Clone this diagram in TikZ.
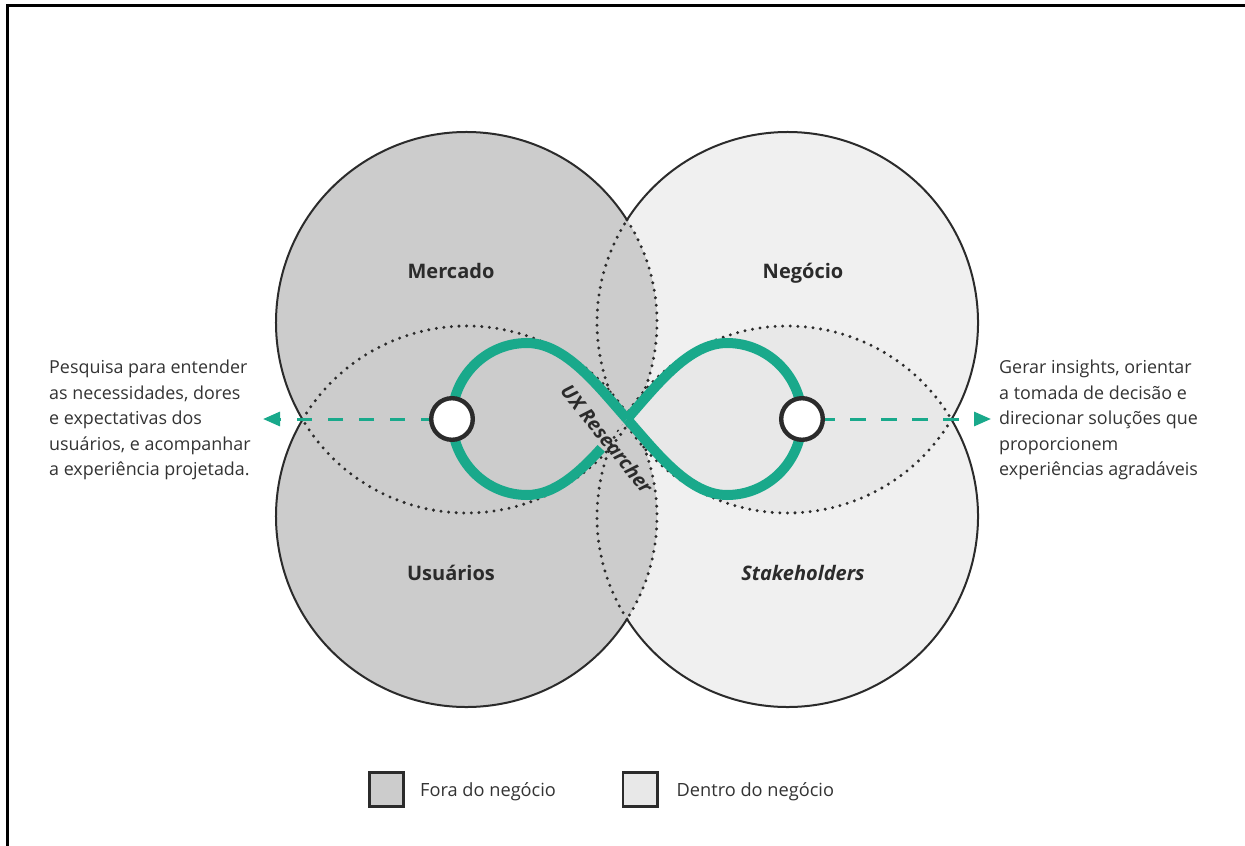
\documentclass[tikz,border=0pt]{standalone}
\usepackage{fontspec}
\setmainfont{Open Sans}
\usetikzlibrary{arrows.meta}
\definecolor{uxgreen}{HTML}{19A98B}
\definecolor{darkfill}{HTML}{CCCCCC}
\definecolor{lightfill}{HTML}{F0F0F0}
\definecolor{lensfill}{HTML}{E8E8E8}
\definecolor{ink}{HTML}{2B2B2B}
\definecolor{txt}{HTML}{333333}
\begin{document}
\begin{tikzpicture}[x=1pt,y=-1pt,
  outline/.style={draw=ink, line width=2pt},
  dots/.style={draw=ink, line width=3.3pt, line cap=round, dash pattern=on 0pt off 7.6pt},
  infty/.style={draw=uxgreen, line width=10pt},
  hub/.style={circle, draw=ink, line width=4.4pt, fill=white, minimum size=41.6pt, inner sep=0pt},
  region/.style={font=\fontsize{20}{24}\selectfont\bfseries, text=ink, inner sep=0pt, anchor=base},
  desc/.style={font=\fontsize{17.9}{25.5}\selectfont, text=txt, align=left, inner sep=0pt, anchor=north west},
  flow/.style={draw=uxgreen, line width=3pt, dash pattern=on 15.5pt off 15.5pt, dash phase=7pt, -{Triangle[length=17pt,width=14pt]}},
  legbox/.style={draw=ink, line width=2.6pt, minimum size=34.4pt, inner sep=0pt},
  legtxt/.style={font=\fontsize{18.2}{21}\selectfont, text=txt, anchor=base west, inner sep=0pt}
]
\useasboundingbox (0,0) rectangle (1245,846);
% frame
\draw[line width=2.2pt] (1245,5.5) -- (7.5,5.5) -- (7.5,846);

% circle fills
\fill[lightfill] (787.5,322.5) circle[radius=190.5];
\fill[lightfill] (787.5,516.5) circle[radius=190.5];
\begin{scope}
  \clip (787.5,322.5) circle[radius=190.5];
  \fill[lensfill] (787.5,516.5) circle[radius=190.5];
\end{scope}
\fill[darkfill] (466.5,322.5) circle[radius=190.5];
\fill[darkfill] (466.5,516.5) circle[radius=190.5];

% dotted inner arcs
\draw[dots] (466.5,322.5) ++(-32.6:190.5) arc[start angle=-32.6, end angle=149.4, radius=190.5];
\draw[dots] (466.5,516.5) ++(-149.4:190.5) arc[start angle=-149.4, end angle=32.6, radius=190.5];
\draw[dots] (787.5,322.5) ++(30.6:190.5) arc[start angle=30.6, end angle=212.6, radius=190.5];
\draw[dots] (787.5,516.5) ++(147.4:190.5) arc[start angle=147.4, end angle=329.4, radius=190.5];

% solid outer arcs
\draw[outline] (466.5,322.5) ++(-32.6:190.5) arc[start angle=-32.6, end angle=-210.6, radius=190.5];
\draw[outline] (466.5,516.5) ++(32.6:190.5) arc[start angle=32.6, end angle=210.6, radius=190.5];
\draw[outline] (787.5,322.5) ++(30.6:190.5) arc[start angle=30.6, end angle=-147.4, radius=190.5];
\draw[outline] (787.5,516.5) ++(-30.6:190.5) arc[start angle=-30.6, end angle=147.4, radius=190.5];

% loop interiors
\fill[darkfill] (627,419) .. controls (597,385) and (565,343) .. (527,343)
  .. controls (485.6,343) and (452,377) .. (452,419)
  .. controls (452,461) and (485.6,495) .. (527,495)
  .. controls (565,495) and (597,453) .. (627,419) -- cycle;
\fill[lensfill] (627,419) .. controls (657,453) and (689,495) .. (727,495)
  .. controls (768.4,495) and (802,461) .. (802,419)
  .. controls (802,377) and (768.4,343) .. (727,343)
  .. controls (689,343) and (657,385) .. (627,419) -- cycle;

% infinity curve
\draw[infty] (627,419) .. controls (597,385) and (565,343) .. (527,343)
  .. controls (485.6,343) and (452,377) .. (452,419)
  .. controls (452,461) and (485.6,495) .. (527,495)
  .. controls (554.36,495) and (578.61,473.23) .. (601.24,448.35);
\draw[infty] (627,419) .. controls (657,453) and (689,495) .. (727,495)
  .. controls (768.4,495) and (802,461) .. (802,419)
  .. controls (802,377) and (768.4,343) .. (727,343)
  .. controls (689,343) and (657,385) .. (627,419);

\node[font=\fontsize{19.5}{22}\selectfont\bfseries\itshape, text=ink, rotate=-51, inner sep=0pt] (ux) at (607,439) {UX Researcher};

% hubs and arrows
\node[hub] (hubL) at (452,419) {};
\node[hub] (hubR) at (802,419) {};
\coordinate (tipL) at (263,419);
\coordinate (tipR) at (991,419);
\draw[flow] (hubL.west) -- (tipL);
\draw[flow, dash phase=6pt] (hubR.east) -- (tipR);

% region labels
\node[region] (mercado) at (451,278.3) {Mercado};
\node[region] (negocio) at (803,278.3) {Negócio};
\node[region] (usuarios) at (451,580.7) {Usuários};
\node[region, font=\fontsize{20}{24}\selectfont\bfseries\itshape] (stake) at (803,580.7) {Stakeholders};

% descriptions
\node[desc] (descL) at (49,360) {Pesquisa para entender\\as necessidades, dores\\e expectativas dos\\usuários, e acompanhar\\a experiência projetada.};
\node[desc] (descR) at (999,360) {Gerar insights, orientar\\a tomada de decisão e\\direcionar soluções que\\proporcionem\\experiências agradáveis};

% legend
\node[legbox, fill=darkfill] (boxout) at (386.5,789.5) {};
\node[legtxt] (lblout) at (420,796) {Fora do negócio};
\node[legbox, fill=lensfill] (boxin) at (640,789.5) {};
\node[legtxt] (lblin) at (676.5,796) {Dentro do negócio};
\end{tikzpicture}
\end{document}
